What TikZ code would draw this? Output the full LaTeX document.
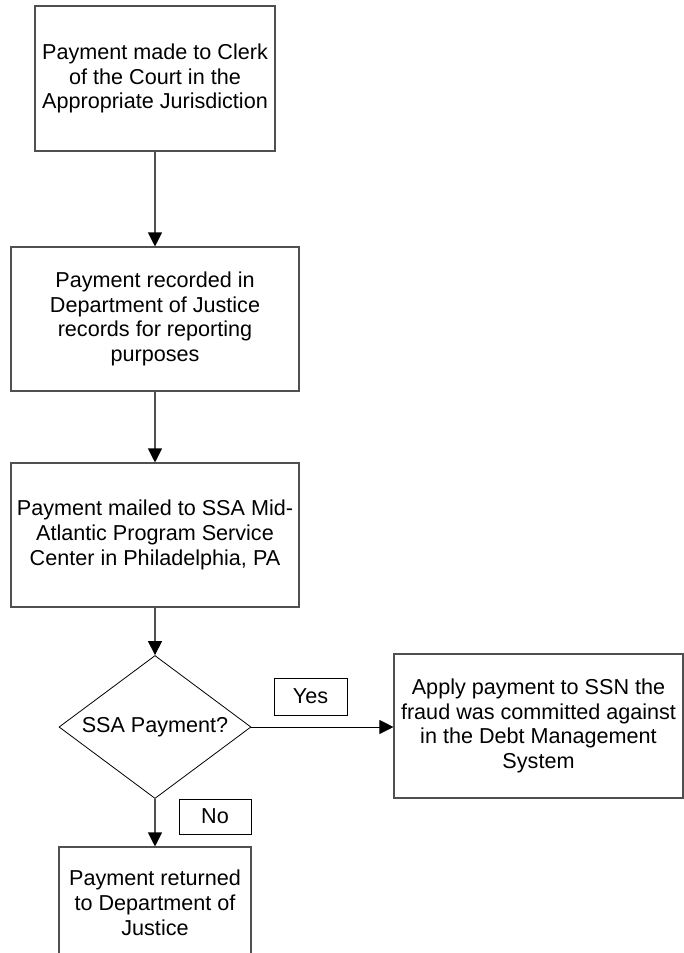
\documentclass[tikz,border=0pt]{standalone}
\usepackage{fontspec}
\setmainfont{Liberation Sans}
\usetikzlibrary{arrows.meta,shapes.geometric}
\definecolor{boxgray}{HTML}{505050}
\begin{document}
\begin{tikzpicture}[x=1pt,y=-1pt,
  every node/.style={font=\fontsize{21.6}{24.8}\selectfont, align=center, inner sep=0pt},
  procbox/.style={draw=boxgray, line width=1.1pt, rectangle, minimum width=#1},
  lblbox/.style={draw=black, line width=0.9pt, rectangle},
  decision/.style={draw=black, line width=0.8pt, diamond, aspect=1.343, minimum width=192pt, minimum height=143pt},
  flow/.style={draw=boxgray, line width=1.1pt, -{Triangle[width=14pt,length=14pt,black]}}
]
\clip (0,0) rectangle (684,953);
\fill[white] (0,0) rectangle (684,953);

\node[procbox=240pt, minimum height=145pt] (b1) at (155,78.5)
  {Payment made to Clerk\\of the Court in the\\Appropriate Jurisdiction};
\node[procbox=288pt, minimum height=144pt] (b2) at (155,319)
  {Payment recorded in\\Department of Justice\\records for reporting\\purposes};
\node[procbox=288pt, minimum height=144pt] (b3) at (155,535)
  {Payment mailed to SSA Mid-\\Atlantic Program Service\\Center in Philadelphia, PA};
\node[decision] (d) at (155,727) {SSA Payment?};
\node[procbox=289pt, minimum height=144pt] (r) at (538.5,726)
  {Apply payment to SSN the\\fraud was committed against\\in the Debt Management\\System};
\node[procbox=192pt, minimum height=111pt] (b5) at (155,902.5)
  {Payment returned\\to Department of\\Justice};

\node[lblbox, minimum width=73pt, minimum height=37pt] (yes) at (310.5,696.5) {Yes};
\node[lblbox, minimum width=72pt, minimum height=35pt] (no) at (215,816.5) {No};

\draw[flow] (b1.south) -- (b2.north);
\draw[flow] (b2.south) -- (b3.north);
\draw[flow] (b3.south) -- (d.north);
\draw[flow, draw=black, line width=0.8pt] (d.east) -- (r.west |- d.east);
\draw[flow] (d.south) -- (b5.north);
\end{tikzpicture}
\end{document}
